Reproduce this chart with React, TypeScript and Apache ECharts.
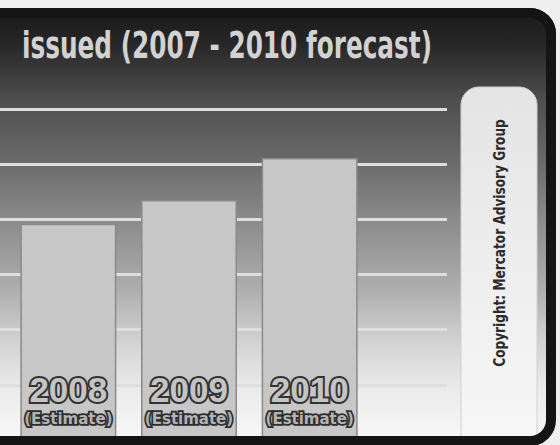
import React, { useEffect, useRef } from "react";
import * as echarts from "echarts";

const titleText = "issued (2007 - 2010 forecast)";
const copyrightText = "Copyright: Mercator Advisory Group";
const years = ["2008", "2009", "2010"];
const values = [3.92, 4.35, 5.11];
const notes = ["(Estimate)", "(Estimate)", "(Estimate)"];
const yMin = 0;
const yMax = 6;
const yInterval = 1;

export default function App() {
  const ref = useRef<HTMLDivElement>(null);
  useEffect(() => {
    if (!ref.current) return;
    const chart = echarts.init(ref.current, null, { renderer: "svg" });
    const bg = new echarts.graphic.LinearGradient(0, 0, 0, 1, [
      { offset: 0, color: "#191919" },
      { offset: 0.08, color: "#262626" },
      { offset: 0.21, color: "#4e4e4e" },
      { offset: 0.35, color: "#6a6a6a" },
      { offset: 0.48, color: "#8a8a8a" },
      { offset: 0.64, color: "#adadad" },
      { offset: 0.76, color: "#d2d2d2" },
      { offset: 0.87, color: "#ebebeb" },
      { offset: 1, color: "#f9f9f9" },
    ]);
    chart.setOption({
      animation: false,
      backgroundColor: "#efefef",
      grid: [
        { left: 0, width: 447, top: 109, bottom: 5 },
        { left: 8, width: 362, top: 109, bottom: 5 },
      ],
      xAxis: [
        { type: "value", gridIndex: 0, min: 0, max: 1, show: false },
        {
          type: "category",
          gridIndex: 1,
          data: years,
          show: false,
        },
      ],
      yAxis: [
        {
          type: "value",
          gridIndex: 0,
          min: yMin,
          max: yMax,
          interval: yInterval,
          axisLine: { show: false },
          axisTick: { show: false },
          axisLabel: { show: false },
          splitLine: { show: true, lineStyle: { color: "#dedede", width: 3 } },
        },
        {
          type: "value",
          gridIndex: 1,
          min: yMin,
          max: yMax,
          interval: yInterval,
          show: false,
          splitLine: { show: false },
        },
      ],
      series: [
        {
          type: "bar",
          xAxisIndex: 1,
          yAxisIndex: 1,
          data: values,
          barWidth: 96,
          itemStyle: { color: "#c7c7c7", borderColor: "#8a8a8a", borderWidth: 1.5 },
          label: {
            show: true,
            position: "insideBottom",
            distance: 11,
            formatter: (p: any) => `{y|${p.name}}\n{e|${notes[p.dataIndex]}}`,
            rich: {
              y: {
                fontSize: 35,
                fontFamily: "Liberation Sans",
                fontWeight: "bold",
                color: "#c4c4c4",
                textBorderColor: "#333333",
                textBorderWidth: 4,
                lineHeight: 40,
                align: "center",
              },
              e: {
                fontSize: 15,
                fontFamily: "DejaVu Sans",
                fontWeight: "bold",
                color: "#b3b3b3",
                textBorderColor: "#2e2e2e",
                textBorderWidth: 3.5,
                lineHeight: 20,
                align: "center",
              },
            },
          },
        },
      ],
      graphic: [
        {
          type: "rect",
          z: -1,
          silent: true,
          shape: { x: -40, y: 8, width: 596, height: 438, r: 26 },
          style: { fill: bg },
        },
        {
          type: "text",
          z: 20,
          x: 22,
          y: 46,
          scaleX: 0.744,
          style: {
            text: titleText,
            fontSize: 37,
            fontFamily: "DejaVu Sans Condensed",
            fontWeight: "bold",
            fill: "#d2d2d2",
            align: "left",
            verticalAlign: "middle",
          },
        },
        {
          type: "rect",
          z: 50,
          silent: true,
          shape: { x: 461, y: 87, width: 76, height: 352, r: [18, 18, 0, 0] },
          style: {
            fill: new echarts.graphic.LinearGradient(0, 0, 0, 1, [
              { offset: 0, color: "#e4e4e4" },
              { offset: 1, color: "#f7f7f7" },
            ]),
            stroke: "#d0d0d0",
            lineWidth: 1,
          },
        },
        {
          type: "text",
          z: 60,
          x: 500,
          y: 243,
          rotation: Math.PI / 2,
          scaleX: 0.9,
          style: {
            text: copyrightText,
            fontSize: 15,
            fontFamily: "DejaVu Sans Condensed",
            fontWeight: "bold",
            fill: "#2b2b2b",
            align: "center",
            verticalAlign: "middle",
          },
        },
        {
          type: "rect",
          z: 100,
          silent: true,
          shape: { x: -35, y: 13, width: 586, height: 428, r: 21 },
          style: { fill: "none", stroke: "#141414", lineWidth: 10 },
        },
      ],
    });
    return () => chart.dispose();
  }, []);
  return (
    <div
      ref={ref}
      style={{ position: "fixed", left: 0, top: 0, width: 560, height: 445 }}
    />
  );
}
